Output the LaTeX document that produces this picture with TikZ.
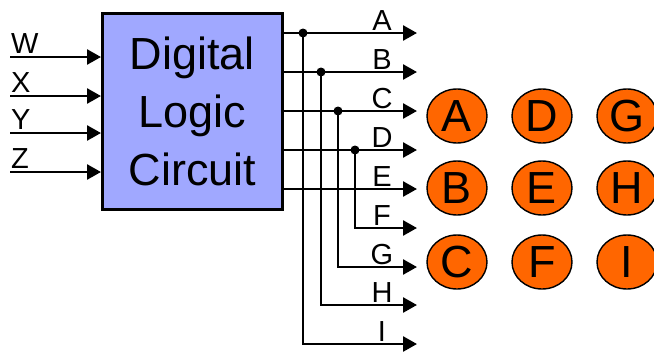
\documentclass[tikz,border=0pt]{standalone}
\usepackage{fontspec}
\setmainfont{Liberation Sans}
\usetikzlibrary{arrows.meta,shapes.geometric}
\definecolor{boxblue}{HTML}{A0A8FF}
\definecolor{orng}{HTML}{FF6600}
\begin{document}
\begin{tikzpicture}[x=1pt,y=-1pt,
  wire/.style={line width=2.6pt},
  arr/.style={wire,-{Triangle[length=14pt,width=15pt]}},
  lbl/.style={font=\fontsize{29}{29}\selectfont,inner sep=0pt},
  dot/.style={circle,fill=black,inner sep=0pt,minimum size=9pt},
  ball/.style={ellipse,draw,line width=1.4pt,fill=orng,minimum width=60pt,minimum height=54pt,inner sep=0pt,font=\fontsize{45}{45}\selectfont}]
\useasboundingbox (0,0) rectangle (654,354);
\node[draw,line width=3pt,fill=boxblue,minimum width=180pt,minimum height=196pt,inner sep=0pt,align=center,font=\fontsize{45}{58}\selectfont] (box) at (192.5,111.5) {Digital\\Logic\\Circuit};
% inputs
\foreach \n/\y in {W/57,X/96,Y/133,Z/172}{
  \coordinate (in\n) at (10,\y);
  \draw[arr] (in\n) -- (box.west |- in\n);
  \node[lbl,anchor=base west] (l\n) at (11,\y-4) {\n};
}
% outputs
\foreach \n/\y in {A/33,B/72,C/111,D/150,E/189,F/228,G/267,H/305,I/344}{
  \coordinate (e\n) at (417,\y);
  \node[lbl,anchor=base] (o\n) at (382,\y-3) {\n};
}
\foreach \n/\y in {A/33,B/72,C/111,D/150,E/189}{
  \coordinate (s\n) at (box.east |- 0,\y);
  \draw[arr] (s\n) -- (e\n);
}
\coordinate (jA) at (303,33);
\coordinate (jB) at (321,72);
\coordinate (jC) at (338,111);
\coordinate (jD) at (355,150);
\draw[arr] (jA) |- (eI);
\draw[arr] (jB) |- (eH);
\draw[arr] (jC) |- (eG);
\draw[arr] (jD) |- (eF);
\foreach \j in {jA,jB,jC,jD}{\node[dot] at (\j) {};}
% balls
\node[ball] (bA) at (457,116) {A};
\node[ball] (bB) at (457,188) {B};
\node[ball] (bC) at (457,262) {C};
\node[ball] (bD) at (542,116) {D};
\node[ball] (bE) at (542,188) {E};
\node[ball] (bF) at (542,262) {F};
\node[ball] (bG) at (627,116) {G};
\node[ball] (bH) at (627,188) {H};
\node[ball] (bI) at (627,262) {I};
\end{tikzpicture}
\end{document}
